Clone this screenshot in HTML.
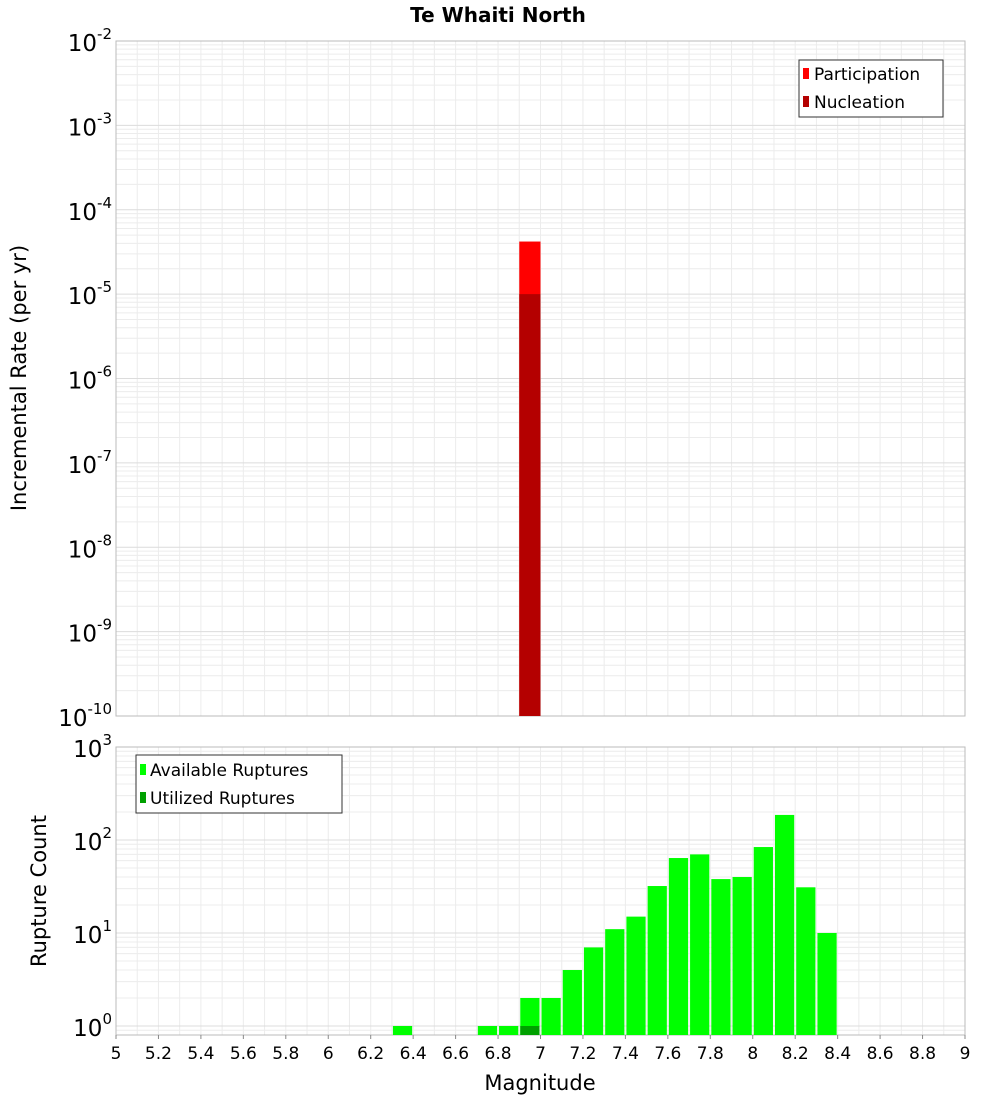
<!DOCTYPE html>
<html><head><meta charset="utf-8"><style>
body{margin:0;background:#fff;}
svg{font-family:"DejaVu Sans","Liberation Sans",sans-serif;}
</style></head><body>
<svg id="chart" width="1000" height="1100" xmlns="http://www.w3.org/2000/svg">
<text x="498" y="22" text-anchor="middle" font-size="20" font-weight="bold">Te Whaiti North</text>
<g id="gtop"></g><g id="gbot"></g>
<text transform="translate(26,378) rotate(-90)" text-anchor="middle" font-size="21">Incremental Rate (per yr)</text>
<text transform="translate(46,891) rotate(-90)" text-anchor="middle" font-size="21">Rupture Count</text>
<text x="540" y="1090" text-anchor="middle" font-size="21">Magnitude</text>
<g>
<rect x="799" y="60" width="144" height="57" fill="#fff" stroke="#333"/>
<rect x="803" y="68" width="6" height="11" fill="#ff0000"/>
<text x="814" y="80" font-size="17">Participation</text>
<rect x="803" y="96" width="6" height="11" fill="#b40000"/>
<text x="814" y="108" font-size="17">Nucleation</text>
</g>
<g>
<rect x="136" y="755" width="206" height="58" fill="#fff" stroke="#333"/>
<rect x="140" y="764" width="6" height="11" fill="#00ff00"/>
<text x="150" y="776" font-size="17">Available Ruptures</text>
<rect x="140" y="792" width="6" height="11" fill="#00a000"/>
<text x="150" y="804" font-size="17">Utilized Ruptures</text>
</g>
</svg>
<script>
const xTicks=[5,5.2,5.4,5.6,5.8,6,6.2,6.4,6.6,6.8,7,7.2,7.4,7.6,7.8,8,8.2,8.4,8.6,8.8,9];
const topBins=[6.95];
const participation=[4.2e-5];
const nucleation=[1.0e-5];
const botBins=[6.35,6.75,6.85,6.95,7.05,7.15,7.25,7.35,7.45,7.55,7.65,7.75,7.85,7.95,8.05,8.15,8.25,8.35];
const available=[1,1,1,2,2,4,7,11,15,32,64,70,38,40,84,186,31,10];
const utilizedBins=[6.95];
const utilized=[1];
const NS="http://www.w3.org/2000/svg";
const L=116,R=965;
const X=m=>L+(m-5)*(R-L)/4;
const T0=41,T1=716,yT=v=>T0+(-2-Math.log10(v))*(T1-T0)/8;
const B0=747,B1=1035,yB=v=>1026-Math.log10(v)*93;
function mk(p,tag,a){const e=document.createElementNS(NS,tag);for(const k in a)e.setAttribute(k,a[k]);p.appendChild(e);return e;}
const gTop=document.getElementById('gtop'),gBot=document.getElementById('gbot');
function grid(g,y0,y1,yf,dmin,dmax){
 for(let i=0;i<=40;i++){const m=5+i*0.1;mk(g,'line',{x1:X(m),x2:X(m),y1:y0,y2:y1,stroke:'#ececec'});}
 for(let d=dmin;d<dmax;d++)for(let k=1;k<10;k++){const y=yf(k*Math.pow(10,d));if(y>=y0&&y<=y1)mk(g,'line',{x1:L,x2:R,y1:y,y2:y,stroke:k==1?'#dcdcdc':'#ececec'});}
}
grid(gTop,T0,T1,yT,-10,-1);
grid(gBot,B0,B1,yB,-1,3);
mk(gTop,'rect',{x:L,y:T0,width:R-L,height:T1-T0,fill:'none',stroke:'#bbb'});
mk(gBot,'rect',{x:L,y:B0,width:R-L,height:B1-B0,fill:'none',stroke:'#bbb'});
function ylab(g,y,e){const t=mk(g,'text',{x:112,y:y+10,'text-anchor':'end','font-size':23});
 
 
 t.innerHTML='10<tspan dy="-12" font-size="15">'+e+'</tspan>';}
for(let e=-10;e<=-2;e++)ylab(gTop,yT(Math.pow(10,e)),e);
for(let e=0;e<=3;e++)ylab(gBot,yB(Math.pow(10,e)),e);
topBins.forEach((m,i)=>{
 const a=mk(gTop,'rect',{x:X(m-0.05),y:yT(participation[i]),width:X(m+0.05)-X(m-0.05),height:T1-yT(participation[i]),fill:'#ff0000'});
 
 
 const b=mk(gTop,'rect',{x:X(m-0.05),y:yT(nucleation[i]),width:X(m+0.05)-X(m-0.05),height:T1-yT(nucleation[i]),fill:'#b40000'});
 
 
});
botBins.forEach((m,i)=>{
 const r=mk(gBot,'rect',{x:X(m-0.05)+1,y:yB(available[i]),width:X(m+0.05)-X(m-0.05)-2,height:B1-yB(available[i]),fill:'#00ff00'});
 
 
});
utilizedBins.forEach((m,i)=>{
 const r=mk(gBot,'rect',{x:X(m-0.05)+1,y:yB(utilized[i]),width:X(m+0.05)-X(m-0.05)-2,height:B1-yB(utilized[i]),fill:'#00a000'});
 
 
});
xTicks.forEach(m=>{
 mk(gBot,'line',{x1:X(m),x2:X(m),y1:B1,y2:B1+4,stroke:'#888'});
 const t=mk(gBot,'text',{x:X(m),y:1059,'text-anchor':'middle','font-size':17});
 
 
 t.textContent=String(m);
});
</script>
</body></html>
